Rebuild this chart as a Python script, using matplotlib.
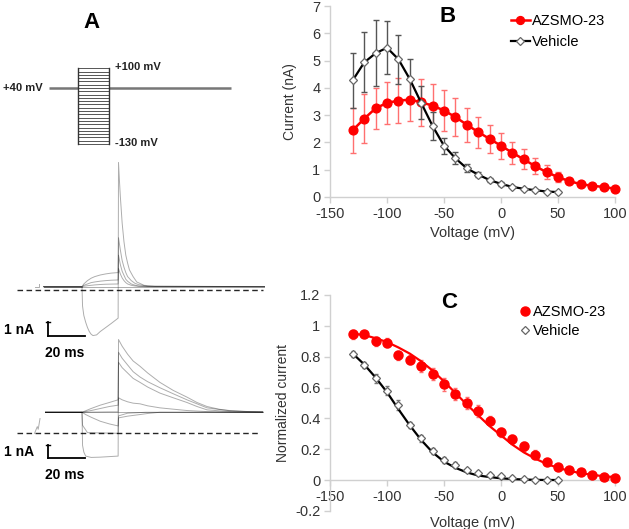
import numpy as np
import matplotlib as mpl
import matplotlib.pyplot as plt
from matplotlib.ticker import FuncFormatter

mpl.rcParams.update({
    'font.family': ['Liberation Sans', 'DejaVu Sans'],
    'axes.unicode_minus': False,
    'figure.facecolor': 'white',
    'axes.facecolor': 'none',
})

W, H = 629, 529

# ---- panel A: voltage protocol ----
STEP_MV = list(range(-130, 101, 10))
HOLD_MV = 40
STEP_MS = 20

# ---- panel A: current traces (ms, nA), top = vehicle, bottom = AZSMO-23 ----
TOP_T_NEG = [-21, 0, 0.3, 1, 2, 3, 4, 5, 6, 8, 10, 13, 16, 19.8, 20, 20.5, 21, 22, 23,
             24, 25, 26, 28, 30, 34, 40, 100]
TOP_I_NEG = [0.25, 0.25, -1.2, -1.9, -2.4, -2.8, -3.1, -3.3, -3.4, -3.35, -3.1, -2.8,
             -2.5, -2.1, 9.5, 8.2, 7.0, 5.0, 3.6, 2.6, 2.0, 1.5, 1.0, 0.6, 0.35, 0.28, 0.25]
TOP_T_POS = [-21, 0, 1, 3, 5, 7, 10, 13, 16, 19.8, 20, 21, 22, 23, 24, 25, 27, 29, 31,
             36, 100]
TOP_I_POS1 = [0.25, 0.25, 0.45, 0.7, 0.88, 1.0, 1.12, 1.2, 1.26, 1.3, 3.9, 3.0, 2.2,
              1.7, 1.3, 1.0, 0.7, 0.5, 0.4, 0.28, 0.25]
TOP_I_POS2 = [0.25, 0.25, 0.35, 0.45, 0.55, 0.6, 0.66, 0.7, 0.73, 0.75, 2.6, 1.9, 1.4,
              1.1, 0.8, 0.65, 0.45, 0.36, 0.3, 0.26, 0.25]
TOP_I_POS3 = [0.25, 0.25, 0.28, 0.32, 0.35, 0.38, 0.41, 0.43, 0.44, 0.45, 1.6, 1.2, 0.9,
              0.7, 0.55, 0.45, 0.35, 0.3, 0.27, 0.25, 0.25]

BOT_T_NEG = [-20, 0, 0.3, 1, 2, 5, 10, 19.8, 20, 22, 25, 28, 31.8, 36, 42.7, 50, 57.5,
             63, 68.5, 75, 81, 90, 99]
BOT_I_NEG = [1.57, 1.57, -0.9, -1.4, -1.7, -1.8, -1.78, -1.7, 7.0, 6.5, 5.9, 5.4, 5.0,
             4.5, 3.8, 3.2, 2.7, 2.3, 2.0, 1.8, 1.68, 1.62, 1.6]
BOT_T_POS = [-20, 0, 5, 10, 15, 19.8, 20, 22, 25, 28, 31.8, 36, 42.7, 50, 57.5, 63,
             68.5, 75, 81, 90, 99]
BOT_I_POS1 = [1.57, 1.57, 1.85, 2.1, 2.3, 2.5, 6.05, 5.6, 5.1, 4.6, 4.2, 3.85, 3.4, 2.95,
              2.5, 2.2, 1.9, 1.78, 1.7, 1.63, 1.6]
BOT_I_POS2 = [1.57, 1.57, 1.7, 1.85, 2.0, 2.1, 5.3, 4.9, 4.5, 4.1, 3.8, 3.45, 3.0, 2.65,
              2.3, 2.0, 1.75, 1.68, 1.62, 1.59, 1.58]
BOT_I_POS3 = [1.57, 1.57, 1.58, 1.59, 1.6, 1.6, 2.65, 2.5, 2.35, 2.25, 2.2, 2.05, 1.9,
              1.8, 1.7, 1.66, 1.62, 1.6, 1.58, 1.57, 1.57]
BOT_T_DOWN = [-20, 0, 2, 5, 10, 15, 19.8, 20, 25, 31.8, 36, 42.7, 99]
BOT_I_DOWN = [1.57, 1.57, 1.4, 1.2, 0.9, 0.7, 0.55, 1.15, 1.28, 1.4, 1.48, 1.57, 1.57]
BOT_T_ZERO = [-20, 0, 0.3, 3, 19.8, 20, 25, 35, 99]
BOT_I_ZERO = [1.57, 1.57, 0.6, 0.05, 0.0, 1.3, 1.5, 1.57, 1.57]

# ---- panel B: current-voltage ----
V_AZ = list(range(-130, 101, 10))
I_AZ = [2.45, 2.87, 3.25, 3.45, 3.53, 3.57, 3.47, 3.35, 3.17, 2.93, 2.65, 2.38,
        2.13, 1.88, 1.62, 1.38, 1.13, 0.91, 0.73, 0.58, 0.47, 0.41, 0.37, 0.30]
E_AZ = [0.82, 0.9, 0.75, 0.77, 0.82, 0.8, 0.86, 0.78, 0.76, 0.69, 0.63, 0.57,
        0.52, 0.47, 0.41, 0.37, 0.29, 0.26, 0.17, 0.1, 0.07, 0.06, 0.05, 0.05]
V_VEH = list(range(-130, 51, 10))
I_VEH = [4.28, 4.93, 5.27, 5.47, 5.05, 4.32, 3.45, 2.6, 1.88, 1.42, 1.05, 0.82,
         0.62, 0.48, 0.37, 0.30, 0.25, 0.20, 0.18]
E_VEH = [1.0, 1.1, 1.2, 0.97, 0.9, 0.75, 0.6, 0.5, 0.3, 0.22, 0.15, 0.1,
         0.07, 0.06, 0.05, 0.04, 0.04, 0.03, 0.03]

# ---- panel C: normalized current ----
N_AZ = [0.945, 0.945, 0.90, 0.89, 0.81, 0.78, 0.74, 0.69, 0.62, 0.56, 0.50, 0.45,
        0.385, 0.31, 0.265, 0.22, 0.165, 0.12, 0.087, 0.065, 0.052, 0.033, 0.018, 0.013]
NE_AZ = [0.03, 0.02, 0.03, 0.03, 0.03, 0.03, 0.04, 0.04, 0.04, 0.04, 0.04, 0.04,
         0.03, 0.03, 0.03, 0.03, 0.03, 0.02, 0.02, 0.02, 0.02, 0.01, 0.01, 0.01]
FIT_AZ = [0.95, 0.94, 0.92, 0.895, 0.86, 0.82, 0.77, 0.71, 0.64, 0.565, 0.49, 0.42,
          0.35, 0.29, 0.23, 0.18, 0.14, 0.105, 0.08, 0.06, 0.045, 0.035, 0.025, 0.02]
N_VEH = [0.817, 0.745, 0.66, 0.58, 0.487, 0.357, 0.27, 0.19, 0.13, 0.097, 0.065,
         0.048, 0.035, 0.026, 0.017, 0.007, 0.003, 0.002, 0.0]
NE_VEH = [0.02, 0.02, 0.03, 0.03, 0.03, 0.02, 0.02, 0.02, 0.02, 0.02, 0.01,
          0.01, 0.01, 0.01, 0.01, 0.01, 0.01, 0.01, 0.01]
FIT_VEH = [0.82, 0.75, 0.665, 0.57, 0.46, 0.355, 0.26, 0.18, 0.12, 0.08, 0.05,
           0.03, 0.02, 0.012, 0.007, 0.004, 0.002, 0.001, 0.001]

RED = '#ff0000'
RED_ERR = '#ff7070'
GREY_AX = '#d0d0d0'
TXT = '#333333'


def px_box(x0, y0, x1, y1):
    return [x0 / W, 1 - y1 / H, (x1 - x0) / W, (y1 - y0) / H]


def style_excel(ax):
    for s in ('top', 'right'):
        ax.spines[s].set_visible(False)
    for s in ('left', 'bottom'):
        ax.spines[s].set_color(GREY_AX)
        ax.spines[s].set_linewidth(1.0)
    ax.tick_params(direction='out', length=4, width=1, color=GREY_AX,
                   labelsize=10.5, labelcolor=TXT, pad=3)


fig = plt.figure(figsize=(W / 100, H / 100), dpi=100)

# protocol
ax_p = fig.add_axes(px_box(40, 60, 240, 152))
ax_p.set_xlim(-24.8, 105.5)
ax_p.set_ylim(-154.4, 125.2)
ax_p.axis('off')
ax_p.plot([-18.9, 0], [HOLD_MV, HOLD_MV], color='#777777', lw=1.8, solid_capstyle='butt')
ax_p.plot([STEP_MS, 99.7], [HOLD_MV, HOLD_MV], color='#777777', lw=1.8, solid_capstyle='butt')
for v in STEP_MV:
    ax_p.plot([0, STEP_MS], [v, v], color='#555555', lw=0.7)
ax_p.plot([0, 0], [STEP_MV[0], STEP_MV[-1]], color='#333333', lw=1.0)
ax_p.plot([STEP_MS, STEP_MS], [STEP_MV[0], STEP_MV[-1]], color='#333333', lw=1.0)
ax_p.text(-23, HOLD_MV, '+40 mV', ha='right', va='center', fontsize=8,
          fontweight='bold', color='#222222', clip_on=False)
ax_p.text(24, STEP_MV[-1] + 5, '+100 mV', ha='left', va='center', fontsize=8,
          fontweight='bold', color='#222222')
ax_p.text(24, STEP_MV[0] + 2, '-130 mV', ha='left', va='center', fontsize=8,
          fontweight='bold', color='#222222')
fig.text(91 / W, 1 - 22 / H, 'A', ha='center', va='center', fontsize=16, fontweight='bold')


def trace_axes(y0, y1, zero_y):
    # 1.825 px per ms, 13.4 px per nA, step start at x = 82 px
    ax = fig.add_axes(px_box(15, y0, 268, y1))
    ax.set_xlim((15 - 82) / 1.825, (268 - 82) / 1.825)
    ax.set_ylim((zero_y - y1) / 13.4, (zero_y - y0) / 13.4)
    ax.axis('off')
    return ax


tr_kw = dict(color='black', lw=0.7, alpha=0.32)

ax_t = trace_axes(155, 345, 290)
ax_t.plot(TOP_T_NEG, TOP_I_NEG, **tr_kw)
for ii in (TOP_I_POS1, TOP_I_POS2, TOP_I_POS3):
    ax_t.plot(TOP_T_POS, ii, **tr_kw)
ax_t.plot([-21, 100], [0.25, 0.25], **tr_kw)
ax_t.plot([-21, 0], [0.25, 0.25], **tr_kw)
ax_t.plot([-25.5, -23.5, -23.5], [0.2, 0.2, 0.45], **tr_kw)
ax_t.plot([-35.6, 99], [0, 0], color='black', lw=1.0, ls=(0, (4, 2.5)), alpha=0.85)
ax_t.plot([-18.5, -18.5], [-2.41, -3.41], color='black', lw=1.3)
ax_t.plot([-19.5, -17.5], [-2.41, -2.41], color='black', lw=1.0)
ax_t.plot([-18.5, 1.5], [-3.41, -3.41], color='black', lw=1.3)
ax_t.text(-43, -2.95, '1 nA', ha='left', va='center', fontsize=10, fontweight='bold')
ax_t.text(-9.5, -4.7, '20 ms', ha='center', va='center', fontsize=10, fontweight='bold',
          clip_on=False)

ax_b = trace_axes(330, 475, 433.3)
ax_b.plot(BOT_T_NEG, BOT_I_NEG, **tr_kw)
for ii in (BOT_I_POS1, BOT_I_POS2, BOT_I_POS3):
    ax_b.plot(BOT_T_POS, ii, **tr_kw)
ax_b.plot(BOT_T_DOWN, BOT_I_DOWN, **tr_kw)
ax_b.plot(BOT_T_ZERO, BOT_I_ZERO, **tr_kw)
ax_b.plot([-20, 99], [1.57, 1.57], **tr_kw)
ax_b.plot([-20, 0], [1.57, 1.57], **tr_kw)
ax_b.plot([-26, -24.5, -24, -23], [0.0, 0.5, 0.3, 1.1], **tr_kw)
ax_b.plot([-35.6, 97], [0, 0], color='black', lw=1.0, ls=(0, (4, 2.5)), alpha=0.85)
ax_b.plot([-18.5, -18.5], [-0.88, -1.88], color='black', lw=1.3)
ax_b.plot([-19.5, -17.5], [-0.88, -0.88], color='black', lw=1.0)
ax_b.plot([-18.5, 1.5], [-1.88, -1.88], color='black', lw=1.3)
ax_b.text(-43, -1.4, '1 nA', ha='left', va='center', fontsize=10, fontweight='bold')
ax_b.text(-9.5, -3.1, '20 ms', ha='center', va='center', fontsize=10, fontweight='bold',
          clip_on=False)

# panel B
axB = fig.add_axes(px_box(330, 6, 615, 197))
style_excel(axB)
axB.errorbar(V_AZ, I_AZ, yerr=E_AZ, fmt='none', ecolor=RED_ERR, elinewidth=1,
             capsize=2, capthick=1, zorder=2, clip_on=False)
axB.plot(V_AZ, I_AZ, color=RED, lw=1.8, marker='o', ms=6.3, mec=RED, mfc=RED,
         zorder=4, clip_on=False, label='AZSMO-23')
axB.errorbar(V_VEH, I_VEH, yerr=E_VEH, fmt='none', ecolor='#555555', elinewidth=1,
             capsize=2, capthick=1, zorder=3, clip_on=False)
axB.plot(V_VEH, I_VEH, color='black', lw=1.6, marker='D', ms=4.5, mec='#666666',
         mfc='white', mew=0.9, zorder=5, clip_on=False, label='Vehicle')
axB.set_xlim(-150, 100)
axB.set_ylim(0, 7)
axB.set_xticks(range(-150, 101, 50))
axB.set_yticks(range(0, 8))
axB.set_xlabel('Voltage (mV)', fontsize=10.5, color=TXT)
axB.xaxis.set_label_coords(0.5, -0.19)
axB.xaxis.label.set_va('center')
axB.set_ylabel('Current (nA)', fontsize=10, color=TXT)
axB.yaxis.set_label_coords(-0.14, 0.5)
axB.yaxis.label.set_va('center')
axB.legend(loc='upper left', bbox_to_anchor=(0.635, 0.96), frameon=False,
           fontsize=10.5, handlelength=1.3, handletextpad=0.15, labelspacing=0.5,
           borderpad=0, borderaxespad=0, markerscale=0.9)
fig.text(448 / W, 1 - 17 / H, 'B', ha='center', va='center', fontsize=16, fontweight='bold')

# panel C
axC = fig.add_axes(px_box(330, 295, 615, 511))
style_excel(axC)
axC.spines['bottom'].set_position(('data', 0))
axC.plot(V_AZ, FIT_AZ, color=RED, lw=1.6, zorder=3)
axC.errorbar(V_AZ, N_AZ, yerr=NE_AZ, fmt='none', ecolor=RED_ERR, elinewidth=1,
             capsize=1.5, zorder=2, clip_on=False)
axC.plot(V_AZ, N_AZ, ls='none', marker='o', ms=6.5, mfc=RED, mec=RED, zorder=4,
         clip_on=False, label='AZSMO-23')
axC.plot(V_VEH, FIT_VEH, color='black', lw=1.6, zorder=3)
axC.errorbar(V_VEH, N_VEH, yerr=NE_VEH, fmt='none', ecolor='#777777', elinewidth=0.8,
             capsize=1.5, zorder=2, clip_on=False)
axC.plot(V_VEH, N_VEH, ls='none', marker='D', ms=4.3, mfc='white', mec='#666666',
         mew=0.9, zorder=5, clip_on=False, label='Vehicle')
axC.set_xlim(-150, 100)
axC.set_ylim(-0.2, 1.2)
axC.set_xticks(range(-150, 101, 50))
axC.set_yticks(np.round(np.arange(-0.2, 1.21, 0.2), 1))
axC.yaxis.set_major_formatter(FuncFormatter(lambda v, p: f'{v:g}'))
axC.set_ylabel('Normalized current', fontsize=10, color=TXT)
axC.yaxis.set_label_coords(-0.165, 0.5)
axC.yaxis.label.set_va('center')
fig.text(472 / W, 1 - 523 / H, 'Voltage (mV)', ha='center', va='center', fontsize=10.5,
         color=TXT)
axC.legend(loc='upper left', bbox_to_anchor=(0.67, 0.955), frameon=False,
           fontsize=10.5, handlelength=0.6, handletextpad=0.2, labelspacing=0.35,
           borderpad=0, borderaxespad=0, numpoints=1)
fig.text(449 / W, 1 - 302 / H, 'C', ha='center', va='center', fontsize=16, fontweight='bold')

fig.savefig('out.png', dpi=100)
